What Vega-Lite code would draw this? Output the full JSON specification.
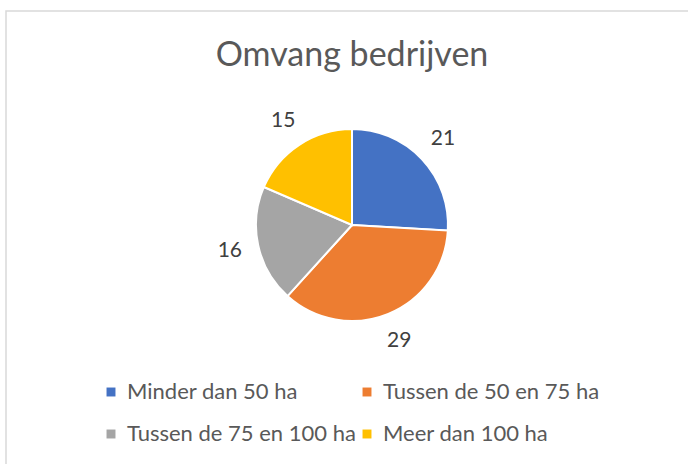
{
  "$schema": "https://vega.github.io/schema/vega-lite/v6.json",
  "autosize": "none",
  "width": 684,
  "height": 455,
  "padding": {"left": 6, "top": 11, "right": -2, "bottom": -2},
  "background": "white",
  "config": {
    "view": {"stroke": "#d9d9d9", "strokeWidth": 1.5},
    "font": "Lato"
  },
  "title": {
    "text": "Omvang bedrijven",
    "font": "Lato",
    "fontSize": 34,
    "fontWeight": "normal",
    "color": "#595959",
    "anchor": "middle",
    "frame": "group",
    "baseline": "alphabetic",
    "dx": 4,
    "dy": 93
  },
  "data": {
    "values": [
      {"categorie": "Minder dan 50 ha", "aantal": 21, "volgorde": 1},
      {"categorie": "Tussen de 50 en 75 ha", "aantal": 29, "volgorde": 2},
      {"categorie": "Tussen de 75 en 100 ha", "aantal": 16, "volgorde": 3},
      {"categorie": "Meer dan 100 ha", "aantal": 15, "volgorde": 4}
    ]
  },
  "encoding": {
    "theta": {"field": "aantal", "type": "quantitative", "stack": true},
    "order": {"field": "volgorde", "type": "quantitative", "sort": "ascending"},
    "x": {"value": 346},
    "y": {"value": 214}
  },
  "layer": [
    {
      "mark": {"type": "arc", "outerRadius": 96, "stroke": "white", "strokeWidth": 2},
      "encoding": {
        "color": {
          "field": "categorie",
          "type": "nominal",
          "sort": ["Minder dan 50 ha", "Tussen de 50 en 75 ha", "Tussen de 75 en 100 ha", "Meer dan 100 ha"],
          "scale": {
            "domain": ["Minder dan 50 ha", "Tussen de 50 en 75 ha", "Tussen de 75 en 100 ha", "Meer dan 100 ha"],
            "range": ["#4472C4", "#ED7D31", "#A5A5A5", "#FFC000"]
          },
          "legend": {
            "title": null,
            "orient": "none",
            "legendX": 94,
            "legendY": 370,
            "direction": "horizontal",
            "columns": 2,
            "columnPadding": -2,
            "rowPadding": 20,
            "padding": 0,
            "symbolType": "square",
            "symbolSize": 80,
            "symbolStrokeWidth": 0,
            "labelFont": "Lato",
            "labelFontSize": 22,
            "labelColor": "#595959",
            "labelOffset": 5,
            "labelLimit": 400
          }
        }
      }
    },
    {
      "mark": {"type": "text", "radius": 125, "font": "Lato", "fontSize": 21, "color": "#404040"},
      "encoding": {
        "text": {"field": "aantal", "type": "quantitative"}
      }
    }
  ]
}
